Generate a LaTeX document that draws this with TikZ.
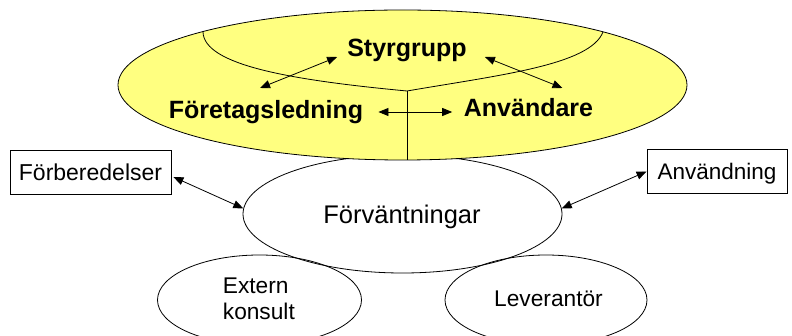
\documentclass[tikz,border=0pt]{standalone}
\usepackage{fontspec}
\setmainfont{Liberation Sans}
\usetikzlibrary{arrows.meta,shapes.geometric,calc}
\definecolor{ylw}{RGB}{255,255,128}
\begin{document}
\begin{tikzpicture}[x=1pt,y=-1pt,
  arr/.style={{Triangle[length=10pt,width=8pt]}-{Triangle[length=10pt,width=8pt]}, line width=0.8pt},
  ell/.style={draw, ellipse, inner sep=0pt, line width=0.8pt},
  bl/.style={font=\fontsize{25}{30}\selectfont\bfseries, inner sep=0pt, anchor=base},
  rg/.style={font=\fontsize{22.7}{26.7}\selectfont, inner sep=0pt, anchor=base},
  bx/.style={draw, line width=0.8pt, inner sep=0pt, minimum height=44pt, text depth=0pt},
  thinline/.style={line width=0.8pt}
]
\useasboundingbox (0,0) rectangle (792,336);
% lower ellipses
\node[ell, minimum width=319pt, minimum height=118pt] (fv) at (402.5,214) {};
\node[ell, minimum width=204pt, minimum height=90pt] (ek) at (259.5,300) {};
\node[ell, minimum width=202pt, minimum height=90pt] (lv) at (546,300) {};
% yellow ellipse
\node[ell, fill=ylw, minimum width=569pt, minimum height=150pt] (ye) at (402.5,85) {};
\coordinate (jn) at (407,91);
\draw[thinline] (203,32) .. controls (204,65) and (290,80) .. (jn)
  .. controls (500,75) and (590,65) .. (603,32);
\draw[thinline] (jn) -- (jn |- ye.south);
% labels
\node[bl] (sg) at (407,57) {Styrgrupp};
\node[bl] (fl) at (266,119) {Företagsledning};
\node[bl] (an) at (528.5,117) {Användare};
\node[rg, font=\fontsize{25.5}{30}\selectfont] (fvt) at (402,224) {Förväntningar};
\node[rg, align=left, anchor=base west] (ekt) at (222.7,320) {Extern\\konsult};
\node[rg] (lvt) at (548.5,306.7) {Leverantör};
% boxes
\node[bx, minimum width=161pt, font=\fontsize{23}{28}\selectfont] (fb) at (90.5,172) {Förberedelser};
\node[bx, minimum width=140pt, font=\fontsize{22.5}{27}\selectfont] (au) at (717,171.5) {Användning};
% connectors
\draw[arr] ($(fl.base)+(-6,-31)$) -- ($(sg.base west)+(-10,0)$);
\draw[arr] ($(sg.base east)+(18,0)$) -- ($(an.base)+(34,-29)$);
\draw[arr] ($(fl.base east)+(15,-7)$) -- ($(an.base west)+(-11.5,-5)$);
\draw[arr] ($(fb.east)+(2,5)$) -- (fv.178);
\draw[arr] (au.west) -- (fv.2);
\end{tikzpicture}
\end{document}
